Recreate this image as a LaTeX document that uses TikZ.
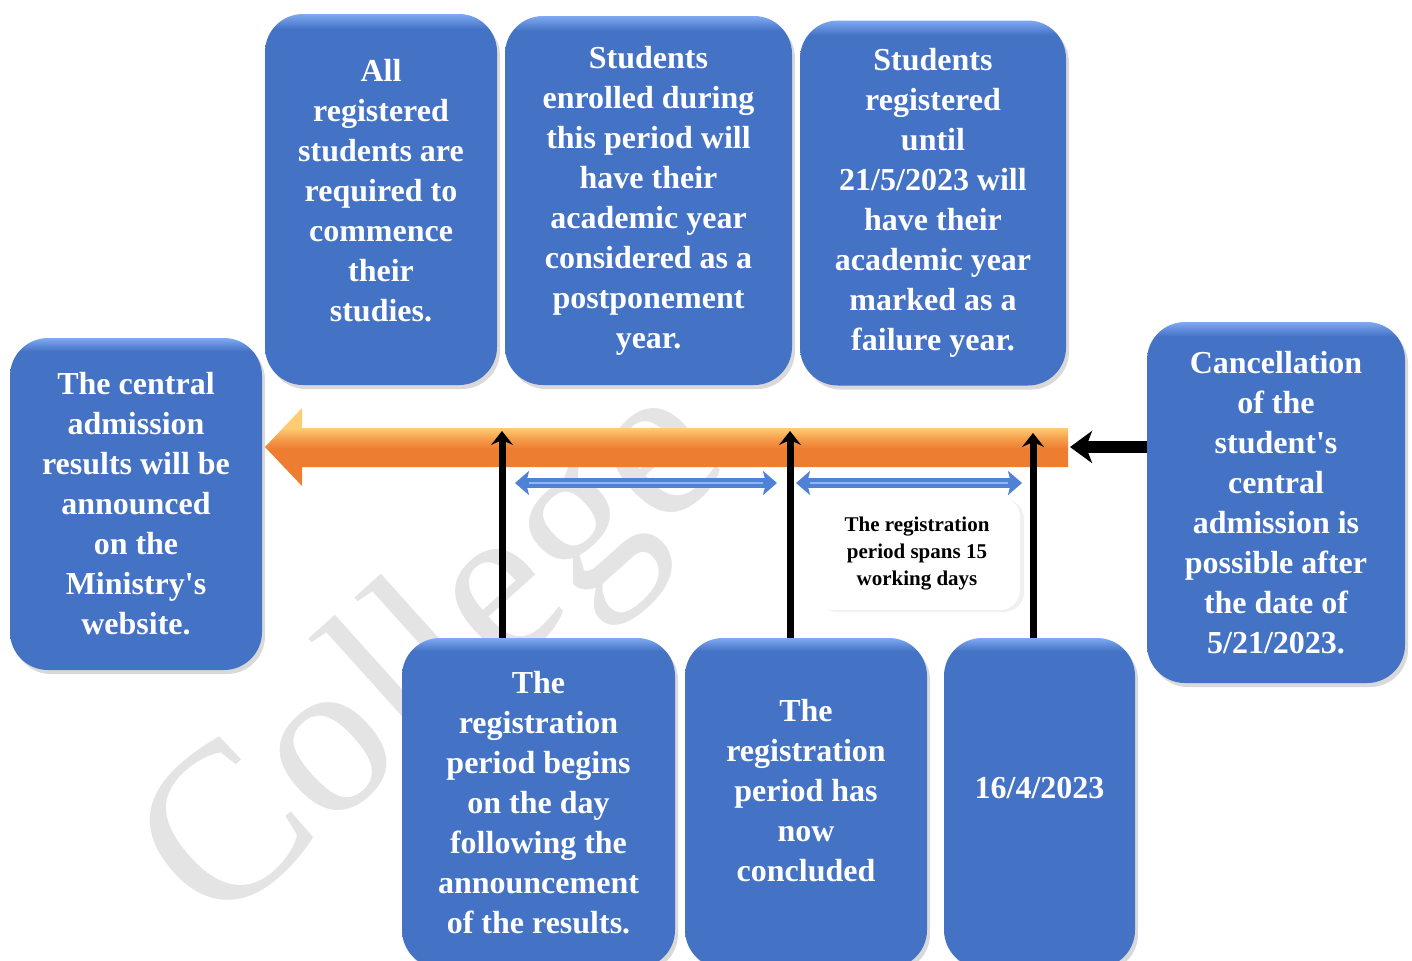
\documentclass[tikz,border=0pt]{standalone}
\usepackage{fontspec}
\setmainfont{Liberation Serif}
\usepackage{tikz}
\usetikzlibrary{arrows.meta,shadows}
\definecolor{cardblue}{HTML}{4472C4}
\definecolor{cardtop}{HTML}{7FA9F2}
\definecolor{orgmain}{HTML}{ED7D31}
\definecolor{orgmid}{HTML}{F6A24F}
\definecolor{orglight}{HTML}{FFCB73}
\definecolor{spanblue}{HTML}{4F81D6}
\definecolor{spanlight}{HTML}{93B7F2}
\definecolor{markgray}{HTML}{E4E4E4}
% flat blue with a light rim on top
\pgfdeclareverticalshading{cardshade}{100bp}{color(0bp)=(cardblue); color(73bp)=(cardblue); color(75bp)=(cardtop); color(100bp)=(cardtop)}
% orange bar, bright on its upper half
\pgfdeclareverticalshading{orangeshade}{100bp}{color(0bp)=(orgmain); color(49bp)=(orgmain); color(56bp)=(orgmid); color(62bp)=(orglight); color(100bp)=(orglight)}

\begin{document}
\begin{tikzpicture}[x=0.5pt, y=-0.5pt,
    card/.style = {rectangle, rounded corners=19pt, shading=cardshade,
                   drop shadow={opacity=.3, shadow xshift=1.5pt, shadow yshift=-2pt},
                   text=white, align=center, inner sep=0pt,
                   font=\bfseries\fontsize{16}{20}\selectfont},
    note/.style  = {rectangle, rounded corners=10pt, fill=white,
                    drop shadow={opacity=.12, shadow xshift=2pt, shadow yshift=-1pt},
                    align=center, inner sep=0pt,
                    font=\bfseries\fontsize{10.5}{13.5}\selectfont},
    riser/.style = {line width=3.5pt, -{Stealth[width=11pt,length=7pt,inset=2.5pt]}},
    pusher/.style = {line width=6pt, -{Stealth[width=16pt,length=11pt,inset=3pt]}},
    span/.style  = {line width=5pt, draw=spanblue,
                    {Stealth[width=12pt,length=7pt,inset=1.5pt]}-{Stealth[width=12pt,length=7pt,inset=1.5pt]}},
    spanhi/.style = {line width=1.2pt, draw=spanlight, shorten <=7pt, shorten >=7pt, yshift=0.6pt}]

\useasboundingbox (0,0) rectangle (1412,960);

%watermark
\node[rotate=42, anchor=base west, text=markgray, inner sep=0pt,
      font=\fontsize{112}{112}\selectfont] (mark) at (215,933) {College};

%time line
\coordinate (tip) at (265,447);
\coordinate (tail) at (1068,447);
\shade[shading=orangeshade] (tip) -- (302,408) -- (302,428) -- (1068,428)
  -- (1068,467) -- (302,467) -- (302,486) -- cycle;

%ticks on the bar
\coordinate (t1) at (502,431);
\coordinate (t2) at (790,431);
\coordinate (t3) at (1033,433);

%spans between the ticks
\coordinate (s1) at (515,483);
\coordinate (s2) at (777,483);
\coordinate (s3) at (796,483);
\coordinate (s4) at (1022,483);
\draw[span] (s1) -- (s2);
\draw[spanhi] (s1) -- (s2);
\draw[span] (s3) -- (s4);
\draw[spanhi] (s3) -- (s4);

%left and right ends
\node[card, minimum width=126pt, minimum height=166pt] (results) at (136,504)
  {The central\\admission\\results will be\\announced\\on the\\Ministry\textquotesingle s\\website.};
\node[card, minimum width=129pt, minimum height=180.5pt] (cancel) at (1276,502.5)
  {Cancellation\\of the\\student\textquotesingle s\\central\\admission is\\possible after\\the date of\\5/21/2023.};

%top row
\node[card, minimum width=116pt, minimum height=185.5pt] (all) at (381,199.5)
  {All\\registered\\students are\\required to\\commence\\their\\studies.\\[-11pt]};
\node[card, minimum width=143.5pt, minimum height=184.5pt] (enrolled) at (648.5,200.5)
  {Students\\enrolled during\\this period will\\have their\\academic year\\considered as a\\postponement\\year.};
\node[card, minimum width=133pt, minimum height=182.5pt] (failure) at (933,203)
  {Students\\registered\\until\\21/5/2023 will\\have their\\academic year\\marked as a\\failure year.};

%bottom row
\node[card, minimum width=136.5pt, minimum height=165pt] (begins) at (538.5,803)
  {The\\registration\\period begins\\on the day\\following the\\announcement\\of the results.};
\node[card, minimum width=121pt, minimum height=165pt] (concluded) at (806,803)
  {The\\registration\\period has\\now\\concluded\\[-7pt]};
\node[card, minimum width=95.5pt, minimum height=165pt] (date) at (1039.5,803)
  {16/4/2023\\[-5pt]};

\node[note, minimum width=103pt, minimum height=56.5pt] (length) at (917,553.5)
  {The registration\\period spans 15\\working days};

%arrows up to the bar
\draw[riser] (begins.north -| t1) -- (t1);
\draw[riser] (concluded.north -| t2) -- (t2);
\draw[riser] (date.north -| t3) -- (t3);
\draw[pusher] (cancel.west |- tail) -- ([xshift=1pt]tail);

\end{tikzpicture}
\end{document}
